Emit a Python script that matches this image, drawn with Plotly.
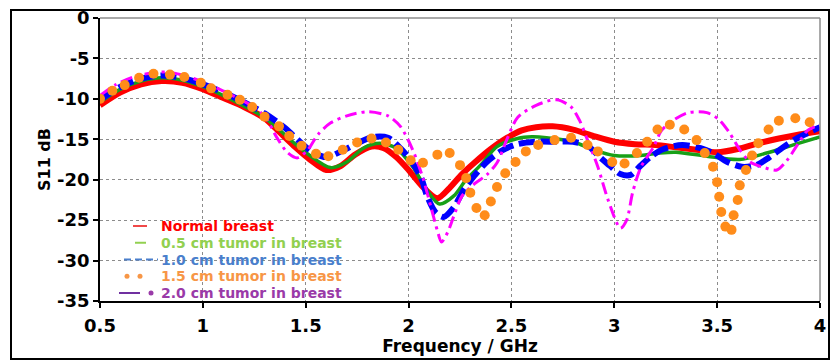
import plotly.graph_objects as go

# Return loss S11 (dB) versus frequency (GHz) for the breast phantom cases
freq_normal = [0.50, 0.60, 0.70, 0.80, 0.90, 1.00, 1.10, 1.20, 1.30, 1.38, 1.45, 1.52,
               1.60, 1.67, 1.74, 1.82, 1.88, 1.94, 2.00, 2.07, 2.14, 2.20, 2.26, 2.32,
               2.40, 2.48, 2.55, 2.62, 2.70, 2.80, 2.90, 3.00, 3.10, 3.20, 3.30, 3.40,
               3.50, 3.60, 3.70, 3.80, 3.90, 4.00]
s11_normal = [-10.8, -9.2, -8.2, -7.8, -8.0, -8.8, -9.9, -11.0, -12.4, -14.3, -16.0, -17.5,
              -18.8, -18.3, -16.9, -15.9, -16.1, -17.2, -18.8, -20.9, -22.3, -21.0, -19.3, -17.9,
              -16.2, -14.8, -13.9, -13.5, -13.4, -13.8, -14.6, -15.3, -15.6, -15.7, -16.0, -16.3,
              -16.6, -16.2, -15.5, -14.9, -14.4, -14.0]

freq_05 = [0.50, 0.60, 0.70, 0.80, 0.90, 1.00, 1.10, 1.20, 1.30, 1.38, 1.45, 1.52,
           1.62, 1.70, 1.78, 1.86, 1.94, 2.02, 2.09, 2.15, 2.22, 2.28, 2.35, 2.43,
           2.53, 2.60, 2.67, 2.80, 2.90, 3.00, 3.13, 3.22, 3.30, 3.45, 3.61, 3.74,
           3.87, 4.00]
s11_05 = [-10.4, -8.8, -7.8, -7.4, -7.7, -8.5, -9.6, -10.9, -12.3, -14.0, -15.6, -17.0,
          -18.5, -17.8, -16.1, -15.5, -16.1, -18.4, -21.3, -23.0, -22.0, -20.0, -18.2, -15.9,
          -14.9, -14.7, -14.8, -15.3, -16.3, -17.0, -17.0, -16.7, -16.6, -17.1, -17.5, -16.7,
          -15.7, -14.7]

freq_10 = [0.50, 0.60, 0.70, 0.80, 0.90, 1.00, 1.10, 1.20, 1.30, 1.40, 1.48, 1.54,
           1.60, 1.68, 1.75, 1.83, 1.90, 1.96, 2.01, 2.06, 2.09, 2.13, 2.17, 2.22,
           2.27, 2.32, 2.38, 2.46, 2.53, 2.62, 2.72, 2.80, 2.87, 2.93, 2.98, 3.03,
           3.08, 3.13, 3.18, 3.24, 3.33, 3.42, 3.48, 3.55, 3.62, 3.69, 3.75, 3.82,
           3.88, 3.95, 4.00]
s11_10 = [-10.1, -8.5, -7.5, -7.1, -7.4, -8.2, -9.2, -10.4, -11.8, -13.6, -15.5, -16.7,
          -17.2, -16.4, -15.5, -14.7, -14.8, -16.1, -17.6, -19.7, -22.0, -24.0, -24.6, -23.4,
          -21.2, -19.5, -17.8, -16.3, -15.6, -15.3, -15.3, -15.3, -15.8, -17.2, -18.3, -19.3,
          -19.4, -18.2, -17.1, -16.2, -15.7, -16.1, -16.7, -17.8, -18.4, -18.2, -17.3, -16.0,
          -15.0, -14.1, -13.5]

freq_15 = [0.50, 0.56, 0.62, 0.69, 0.76, 0.84, 0.91, 0.99, 1.04, 1.12, 1.18, 1.24,
           1.30, 1.37, 1.42, 1.48, 1.55, 1.61, 1.68, 1.75, 1.82, 1.89, 1.95, 2.01,
           2.07, 2.14, 2.20, 2.25, 2.28, 2.30, 2.33, 2.37, 2.40, 2.43, 2.47, 2.52,
           2.57, 2.63, 2.71, 2.79, 2.87, 2.92, 2.99, 3.05, 3.11, 3.16, 3.21, 3.27,
           3.34, 3.40, 3.44, 3.48, 3.50, 3.51, 3.52, 3.54, 3.57, 3.58, 3.60, 3.61,
           3.64, 3.67, 3.70, 3.75, 3.80, 3.88, 3.95]
s11_15 = [-10.0, -9.0, -8.3, -7.4, -6.9, -7.0, -7.3, -8.0, -8.7, -9.5, -10.1, -11.0,
          -12.2, -13.4, -14.6, -15.8, -16.8, -17.1, -16.3, -15.4, -14.9, -15.4, -16.3, -17.6,
          -17.9, -16.9, -16.7, -18.2, -19.8, -21.6, -23.5, -24.4, -22.7, -20.9, -19.2, -17.8,
          -16.5, -15.7, -15.1, -14.8, -15.7, -16.5, -17.8, -18.0, -16.7, -15.3, -13.8, -13.2,
          -13.8, -15.1, -16.7, -18.4, -20.3, -22.1, -24.0, -25.8, -26.2, -24.4, -22.5, -20.7,
          -18.8, -17.0, -15.5, -13.8, -12.7, -12.4, -12.9]

freq_20 = [0.50, 0.58, 0.66, 0.75, 0.83, 0.92, 1.02, 1.12, 1.20, 1.26, 1.31, 1.36,
           1.41, 1.46, 1.51, 1.56, 1.62, 1.70, 1.80, 1.90, 1.96, 2.02, 2.07, 2.11,
           2.14, 2.16, 2.19, 2.22, 2.26, 2.32, 2.38, 2.43, 2.48, 2.53, 2.62, 2.72,
           2.79, 2.83, 2.87, 2.92, 2.97, 3.03, 3.06, 3.09, 3.13, 3.19, 3.23, 3.29,
           3.36, 3.45, 3.51, 3.56, 3.61, 3.66, 3.73, 3.79, 3.84, 3.89, 3.94, 4.00]
s11_20 = [-9.6, -8.2, -7.3, -6.8, -6.7, -7.2, -8.1, -9.3, -10.3, -11.2, -12.5, -14.8,
          -16.6, -17.3, -16.3, -14.4, -13.0, -12.1, -11.6, -12.1, -13.4, -16.3, -19.8, -23.5,
          -26.3, -27.7, -26.5, -24.5, -22.0, -20.5, -19.4, -17.9, -14.9, -12.3, -10.8, -10.1,
          -11.0, -12.6, -15.1, -18.4, -22.5, -26.0, -25.0, -21.5, -18.4, -16.0, -13.9, -12.6,
          -11.7, -11.7, -12.6, -14.2, -16.3, -17.8, -18.5, -18.8, -17.6, -15.7, -13.9, -13.2]

legend_labels = ["Normal breast", "0.5 cm tumor in breast", "1.0 cm tumor in breast",
                 "1.5 cm tumor in breast", "2.0 cm tumor in breast"]
legend_colors = ["#FF0000", "#92D050", "#4A7FCC", "#F79646", "#9A3AA8"]

x_ticks = [0.5, 1, 1.5, 2, 2.5, 3, 3.5, 4]
y_ticks = [0, -5, -10, -15, -20, -25, -30, -35]

FONT = "DejaVu Sans"

fig = go.Figure()

fig.add_trace(go.Scatter(x=freq_normal, y=s11_normal, mode="lines", name=legend_labels[0],
                         line=dict(color="#FF0000", width=6, shape="spline", smoothing=0.8)))
fig.add_trace(go.Scatter(x=freq_05, y=s11_05, mode="lines", name=legend_labels[1],
                         line=dict(color="#18A018", width=3.5, shape="spline", smoothing=0.8)))
fig.add_trace(go.Scatter(x=freq_10, y=s11_10, mode="lines", name=legend_labels[2],
                         line=dict(color="#0000FF", width=6, dash="16px,6px",
                                   shape="spline", smoothing=0.8)))
fig.add_trace(go.Scatter(x=freq_20, y=s11_20, mode="lines", name=legend_labels[4],
                         line=dict(color="#FF00FF", width=3, dash="12px,5px,3px,5px",
                                   shape="spline", smoothing=0.8)))
fig.add_trace(go.Scatter(x=freq_15, y=s11_15, mode="markers", name=legend_labels[3],
                         marker=dict(color="#FF8C1A", size=10, line=dict(width=0))))

# Plot area is 720 x 283 px, with its lower-left corner at (100, 301)
L, T, W, H = 100, 18, 720, 283


def px(xp):
    return (xp - L) / W


def py(yp):
    return (T + H - yp) / H


shapes = [
    # outer black frame
    dict(type="rect", xref="paper", yref="paper", x0=px(11), x1=px(829), y0=py(359), y1=py(10),
         line=dict(color="black", width=2), layer="below"),
    # grey top and right edges of the plot area
    dict(type="line", xref="paper", yref="paper", x0=0, x1=1, y0=1, y1=1,
         line=dict(color="#8C8C8C", width=1.5)),
    dict(type="line", xref="paper", yref="paper", x0=1, x1=1, y0=0, y1=1,
         line=dict(color="#8C8C8C", width=1.5)),
]

# legend inside the plot area, lower left, one row every 16.75 px
rows = [226 + 16.75 * i for i in range(5)]
annotations = []
for label, color, yrow in zip(legend_labels, legend_colors, rows):
    annotations.append(dict(xref="paper", yref="paper", x=px(160), y=py(yrow),
                            xanchor="left", yanchor="middle", showarrow=False,
                            borderpad=0,
                            text="<b>%s</b>" % label,
                            font=dict(family=FONT, size=14, color=color)))

sym_w = 2
shapes += [
    dict(type="line", xref="paper", yref="paper", x0=px(133), x1=px(147), y0=py(rows[0]), y1=py(rows[0]),
         line=dict(color="#F04848", width=sym_w)),
    dict(type="line", xref="paper", yref="paper", x0=px(135), x1=px(146), y0=py(rows[1]), y1=py(rows[1]),
         line=dict(color="#92D050", width=sym_w)),
    dict(type="line", xref="paper", yref="paper", x0=px(124), x1=px(158), y0=py(rows[2]), y1=py(rows[2]),
         line=dict(color="#4A7FCC", width=sym_w, dash="7px,4px")),
    dict(type="circle", xref="paper", yref="paper", x0=px(124.5), x1=px(129.5),
         y0=py(rows[3] + 2.5), y1=py(rows[3] - 2.5), fillcolor="#F79646", line=dict(width=0)),
    dict(type="circle", xref="paper", yref="paper", x0=px(137.5), x1=px(142.5),
         y0=py(rows[3] + 2.5), y1=py(rows[3] - 2.5), fillcolor="#F79646", line=dict(width=0)),
    dict(type="line", xref="paper", yref="paper", x0=px(119), x1=px(140), y0=py(rows[4]), y1=py(rows[4]),
         line=dict(color="#7030A0", width=sym_w)),
    dict(type="circle", xref="paper", yref="paper", x0=px(148.5), x1=px(153.5),
         y0=py(rows[4] + 2.5), y1=py(rows[4] - 2.5), fillcolor="#9A3AA8", line=dict(width=0)),
]

axis_common = dict(
    showgrid=True, gridcolor="#8C8C8C", gridwidth=1, griddash="dot",
    showline=True, linecolor="black", linewidth=1.5,
    ticks="outside", ticklen=5, tickwidth=1.5, tickcolor="black",
    tickfont=dict(family=FONT, size=18, color="black", weight="bold"),
    zeroline=False, fixedrange=True, automargin=False,
)

fig.update_layout(
    width=832, height=360,
    margin=dict(l=L, r=832 - L - W, t=T, b=360 - T - H, pad=0, autoexpand=False),
    paper_bgcolor="white", plot_bgcolor="white",
    showlegend=False,
    shapes=shapes,
    annotations=annotations,
    xaxis=dict(range=[0.5, 4], tickvals=x_ticks, ticktext=[str(v) for v in x_ticks],
               ticklabelstandoff=3,
               title=dict(text="<b>Frequency / GHz</b>", standoff=4,
                          font=dict(family=FONT, size=17, color="black")),
               **axis_common),
    yaxis=dict(range=[-35, 0], tickvals=y_ticks, ticktext=[str(v) for v in y_ticks],
               title=dict(text="<b>S11 dB</b>", standoff=3,
                          font=dict(family=FONT, size=16, color="black")),
               **axis_common),
)

fig.write_html("out.html")
